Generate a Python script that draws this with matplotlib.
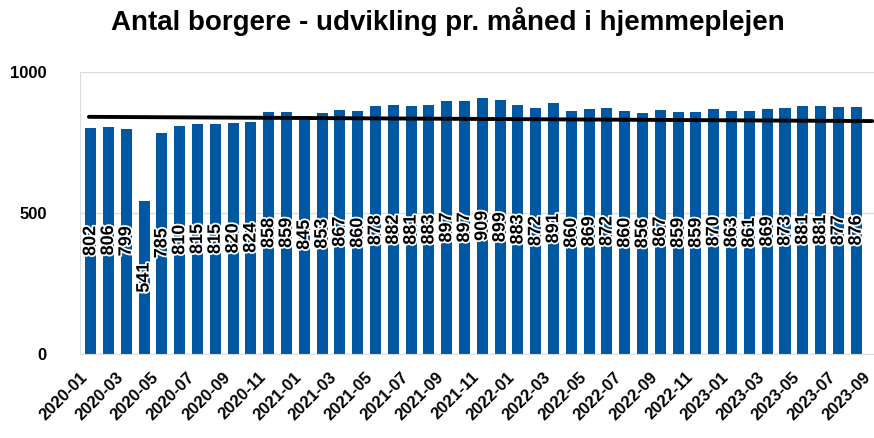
import matplotlib.pyplot as plt
import matplotlib.patheffects as pe
import numpy as np

plt.rcParams.update({
	"font.family": ["Liberation Sans", "DejaVu Sans"],
	"font.size": 10,
	})

# Data
months = [
	"2020-01", "2020-02", "2020-03", "2020-04", "2020-05", "2020-06",
	"2020-07", "2020-08", "2020-09", "2020-10", "2020-11", "2020-12",
	"2021-01", "2021-02", "2021-03", "2021-04", "2021-05", "2021-06",
	"2021-07", "2021-08", "2021-09", "2021-10", "2021-11", "2021-12",
	"2022-01", "2022-02", "2022-03", "2022-04", "2022-05", "2022-06",
	"2022-07", "2022-08", "2022-09", "2022-10", "2022-11", "2022-12",
	"2023-01", "2023-02", "2023-03", "2023-04", "2023-05", "2023-06",
	"2023-07", "2023-08",
	]
borgere = [
	802, 806, 799, 541, 785, 810, 815, 815, 820, 824, 858, 859,
	845, 853, 867, 860, 878, 882, 881, 883, 897, 897, 909, 899,
	883, 872, 891, 860, 869, 872, 860, 856, 867, 859, 859, 870,
	863, 861, 869, 873, 881, 881, 877, 876,
	]
tick_labels = [
	"2020-01", "2020-03", "2020-05", "2020-07", "2020-09", "2020-11",
	"2021-01", "2021-03", "2021-05", "2021-07", "2021-09", "2021-11",
	"2022-01", "2022-03", "2022-05", "2022-07", "2022-09", "2022-11",
	"2023-01", "2023-03", "2023-05", "2023-07", "2023-09",
	]
trend_start, trend_end = 841, 826

fig = plt.figure(figsize=(8.74, 4.38), dpi=100)
ax = fig.add_axes([80/874, 1-354/438, 794/874, 282/438])

x = np.arange(len(months))
bars = ax.bar(x, borgere, width=0.62, color="#0058A2", zorder=2)
ax.bar_label(bars, label_type="center", rotation=90, fontsize=13,
	fontweight="bold", color="black",
	path_effects=[pe.withStroke(linewidth=2.5, foreground="white")])

# Trend line
ax.plot([-0.1, len(months) - 0.1], [trend_start, trend_end], c="black", lw=2.8,
	solid_capstyle="round", zorder=3)

ax.set_xlim(-0.56, 44.0)
ax.set_ylim(0, 1000)
ax.set_yticks([0, 500, 1000])
ax.set_yticklabels(["0", "500", "1000"], fontsize=12, fontweight="bold")
# every second month, nudged left so the rotated text ends at the bar
ax.set_xticks(np.arange(0, 2 * len(tick_labels), 2) - 0.6)
ax.set_xticklabels(tick_labels, rotation=45, ha="right", va="top",
	rotation_mode="anchor", fontsize=12, fontweight="bold")
ax.tick_params(axis="both", length=0)
ax.tick_params(axis="y", pad=24)
ax.tick_params(axis="x", pad=11)
ax.grid(axis="y", color="#dddddd", lw=1, zorder=0)
for side in ["top", "right"]:
	ax.spines[side].set_visible(False)
for side in ["left", "bottom"]:
	ax.spines[side].set_color("#dddddd")

fig.text(0.513, 0.95, "Antal borgere - udvikling pr. måned i hjemmeplejen",
	ha="center", va="center", fontsize=20, fontweight="bold")

fig.savefig("out.png", dpi=100)
